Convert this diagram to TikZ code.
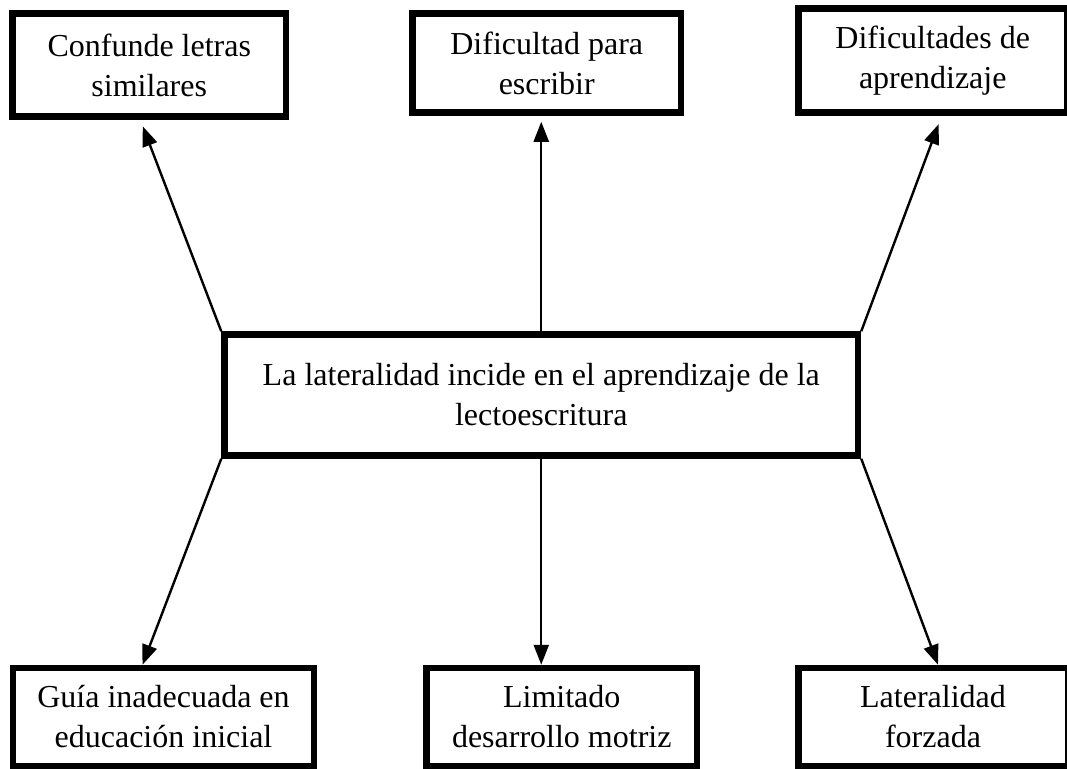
\documentclass[tikz,border=0pt]{standalone}
\usepackage{fontspec}
\setmainfont{Liberation Serif}
\usetikzlibrary{arrows.meta,calc}
\begin{document}
\begin{tikzpicture}[x=1pt,y=-1pt,
  box/.style={draw=black,line width=6.5pt,rectangle,align=center,inner sep=0pt,
    font=\fontsize{32}{40}\selectfont},
  arr/.style={line width=2.4pt,-{Triangle[length=20pt,width=15pt]}}]
\fill[white] (0,0) rectangle (1067,768);
\useasboundingbox (0,0) rectangle (1067,768);
\clip (0,0) rectangle (1067,768);
% boxes
\node[box,minimum width=273.5pt,minimum height=103pt] (TL) at (149.25,65) {Confunde letras\\similares};
\node[box,minimum width=268.5pt,minimum height=99pt] (TM) at (546.75,63) {Dificultad para\\escribir};
\node[box,minimum width=268.5pt,minimum height=104pt] (TR) at (932.75,60.5) {Dificultades de\\aprendizaje};
\node[box,minimum width=633.5pt,minimum height=121pt] (C) at (541.25,395) {La lateralidad incide en el aprendizaje de la\\lectoescritura};
\node[box,minimum width=301pt,minimum height=98pt] (BL) at (163.5,717) {Guía inadecuada en\\educación inicial};
\node[box,minimum width=270.5pt,minimum height=98pt] (BM) at (561.75,717) {Limitado\\desarrollo motriz};
\node[box,minimum width=269.5pt,minimum height=98pt] (BR) at (933,717) {Lateralidad\\forzada};
% connectors
\draw[arr,shorten >=7pt] (C.north west) -- ([xshift=-9pt]TL.south);
\draw[arr,shorten >=6pt] (C.north) -- (C.north |- TM.south);
\draw[arr,shorten >=9pt] (C.north east) -- ([xshift=9pt]TR.south);
\draw[arr] (C.south west) -- ([xshift=-21pt]BL.north);
\draw[arr] (C.south) -- (C.south |- BM.north);
\draw[arr] (C.south east) -- ([xshift=5pt]BR.north);
\end{tikzpicture}
\end{document}
